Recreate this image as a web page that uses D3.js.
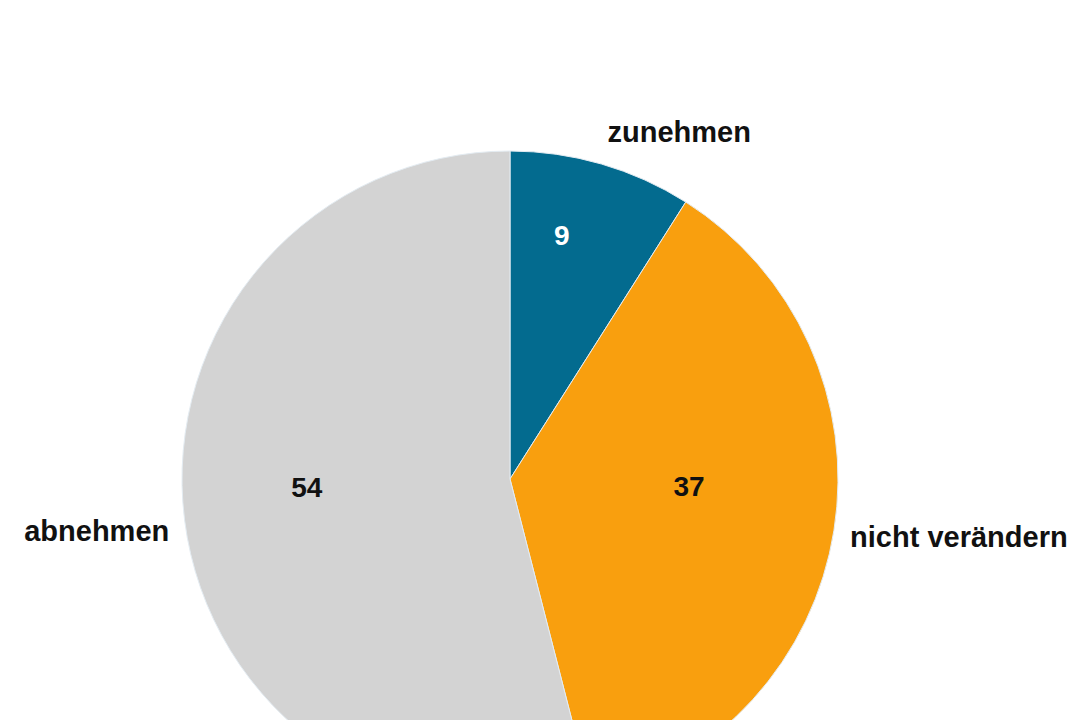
<html>

<head>
    <meta charset="utf-8">
    <title>Pie</title>
    <script src="https://d3js.org/d3.v7.min.js"></script>
    <style>
        body { margin: 0; background: #fff; }
        text { font-family: "Liberation Sans", Arial, sans-serif; font-weight: bold; }
    </style>
</head>

<body>
    <script>
        // data
        var categories = ['zunehmen', 'nicht verändern', 'abnehmen'];
        var values = [9, 37, 54];
        var colors = ['#036b8f', '#f99f0e', '#d3d3d3'];
        var valueColors = ['#ffffff', '#111111', '#111111'];

        // label placement: [angle in degrees clockwise from top, radius factor]
        var valueLabelPos = [[12, 0.76], [92.2, 0.546], [267.7, 0.62]];
        var nameLabelPos = [[26, 1.177], [97.4, 1.38], [262.8, 1.27]];

        var width = 1080,
            height = 720,
            cx = 510,
            cy = 479,
            radius = 328;

        var svg = d3.select('body')
            .append('svg')
            .attr('width', width)
            .attr('height', height);

        var g = svg.append('g')
            .attr('transform', 'translate(' + cx + ',' + cy + ')');

        var pie = d3.pie().sort(null).value(function (d) { return d; });
        var arcs = pie(values);

        var arc = d3.arc().innerRadius(0).outerRadius(radius);

        g.selectAll('path')
            .data(arcs)
            .enter()
            .append('path')
            .attr('d', arc)
            .attr('fill', function (d, i) { return colors[i]; })
            .attr('stroke', '#e4ecf2')
            .attr('stroke-width', 1);

        function rad(a) { return a * Math.PI / 180; }

        // numbers inside slices
        g.selectAll('text.val')
            .data(arcs)
            .enter()
            .append('text')
            .attr('class', 'val')
            .attr('transform', function (d, i) {
                var p = d3.pointRadial(rad(valueLabelPos[i][0]), radius * valueLabelPos[i][1]);
                return 'translate(' + p[0] + ',' + p[1] + ')';
            })
            .attr('dy', '0.35em')
            .attr('text-anchor', 'middle')
            .attr('font-size', 28)
            .attr('fill', function (d, i) { return valueColors[i]; })
            .text(function (d) { return d.data; });

        // category names outside
        g.selectAll('text.name')
            .data(categories)
            .enter()
            .append('text')
            .attr('class', 'name')
            .attr('transform', function (d, i) {
                var p = d3.pointRadial(rad(nameLabelPos[i][0]), radius * nameLabelPos[i][1]);
                return 'translate(' + p[0] + ',' + p[1] + ')';
            })
            .attr('dy', '0.35em')
            .attr('text-anchor', 'middle')
            .attr('font-size', 29)
            .attr('fill', '#111')
            .text(function (d) { return d; });
    </script>
</body>

</html>
